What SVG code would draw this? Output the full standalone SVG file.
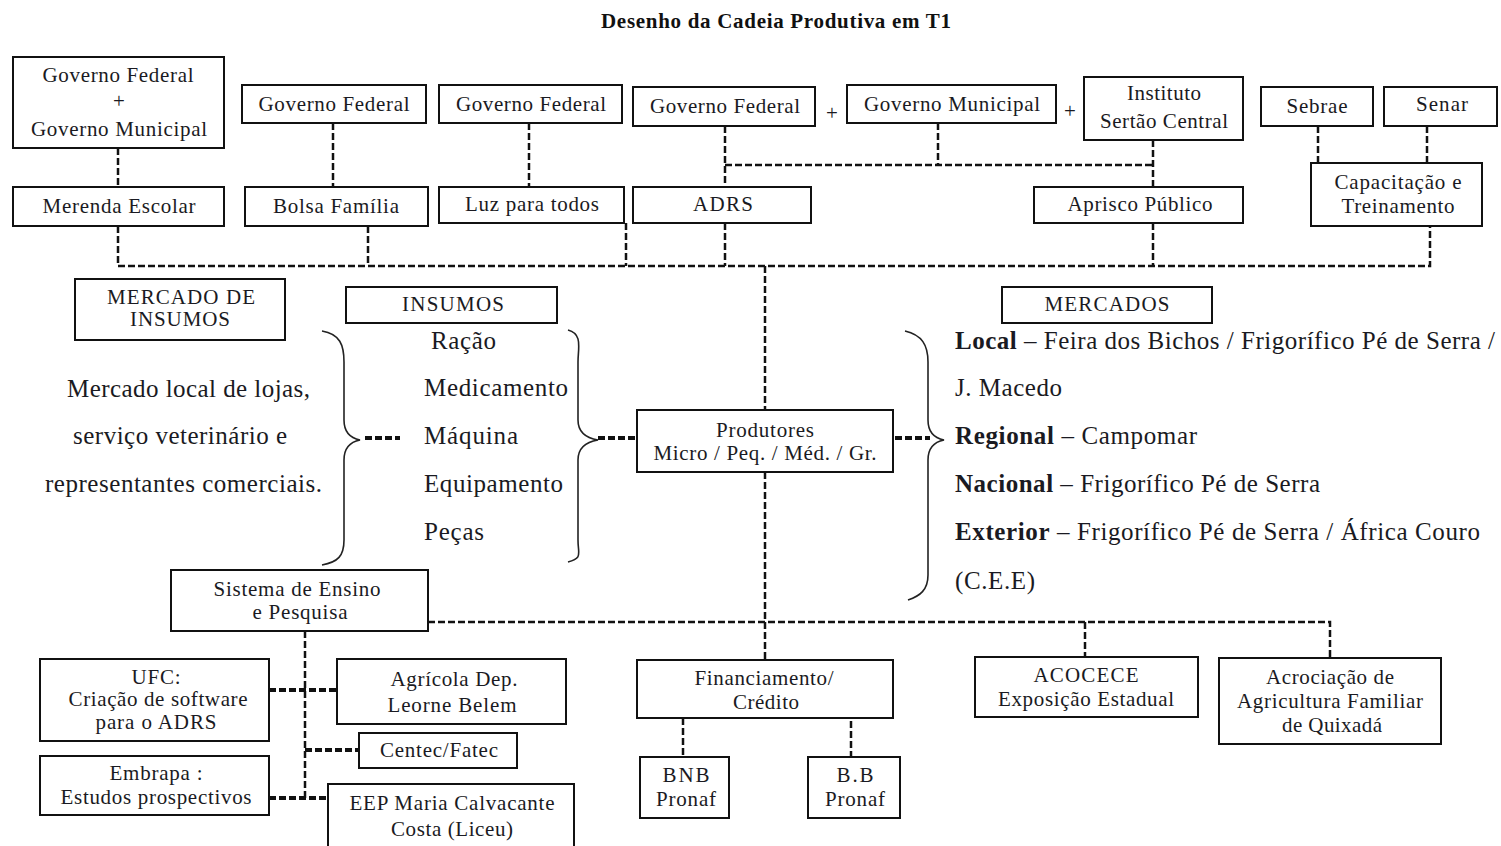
<svg xmlns="http://www.w3.org/2000/svg" width="1501" height="846" viewBox="0 0 1501 846">
<style>
.b{fill:#fff;stroke:#111;stroke-width:2}
.t{font-family:"Liberation Serif","Times New Roman",serif;font-size:21px;fill:#1a1a22;text-anchor:middle}
.s{font-family:"Liberation Serif","Times New Roman",serif;font-size:25px;fill:#1a1a22}
.bold{font-weight:bold}
.c{fill:none;stroke:#111;stroke-width:2.5;stroke-dasharray:7 3}
.k{fill:none;stroke:#111;stroke-width:4;stroke-dasharray:7 3}
.br{fill:none;stroke:#222;stroke-width:1.6}
</style>
<rect width="1501" height="846" fill="#fff"/>
<text x="776" y="28" style="font-family:'Liberation Serif',serif;font-size:21px;font-weight:bold;text-anchor:middle;fill:#111" textLength="350">Desenho da Cadeia Produtiva em T1</text>

<g id="connectors">
<path class="c" d="M118 148V187M333 123V187M529 123V187M725 126V187M938 123V165M725 165H1153M1153 140V187M1318 126V163M1427 126V163"/>
<path class="c" d="M118 226V266H1430V226M368 226V266M626 223V266M725 223V266M1153 223V266M765 266V410M765 472V660"/>
<path class="c" d="M428 622H1330V658M1085 622V657"/>
<path class="c" d="M305 631V800M683 718V757M851 711V757"/>
<path class="k" d="M269 690H337M305 750H359M269 798H330M365 438H400M598 438H635M895 438H930"/>
<path class="br" d="M322 331C340 334 344 345 344 362V420C344 432 350 438 360 440C350 442 344 448 344 460V540C344 556 338 562 322 565"/>
<path class="br" d="M568 330C583 334 578 348 578 362V420C578 432 586 438 598 440C586 442 578 448 578 460V540C578 554 583 558 568 562"/>
<path class="br" d="M905 331C922 335 928 345 928 362V420C928 432 934 438 944 440C934 442 928 448 928 460V575C928 590 920 596 908 600"/>
</g>

<g id="n-gov-fed-mun"><rect class="b" x="13" y="57" width="211" height="91"/>
<text class="t" x="118" y="82" textLength="151">Governo Federal</text><text class="t" x="119" y="108">+</text><text class="t" x="119" y="136" textLength="176">Governo Municipal</text></g>
<g id="n-gov-fed-1"><rect class="b" x="242" y="85" width="184" height="38"/><text class="t" x="334" y="111" textLength="151">Governo Federal</text></g>
<g id="n-gov-fed-2"><rect class="b" x="439" y="85" width="183" height="38"/><text class="t" x="531" y="111" textLength="150">Governo Federal</text></g>
<g id="n-gov-fed-3"><rect class="b" x="633" y="87" width="182" height="39"/><text class="t" x="725" y="113" textLength="150">Governo Federal</text></g>
<text class="t" x="832" y="120">+</text>
<g id="n-gov-mun"><rect class="b" x="847" y="85" width="209" height="38"/><text class="t" x="952" y="111" textLength="176">Governo Municipal</text></g>
<text class="t" x="1070" y="118">+</text>
<g id="n-instituto"><rect class="b" x="1084" y="77" width="159" height="63"/><text class="t" x="1164" y="100" textLength="74">Instituto</text><text class="t" x="1164" y="128" textLength="128">Sertão Central</text></g>
<g id="n-sebrae"><rect class="b" x="1261" y="87" width="112" height="39"/><text class="t" x="1317" y="113" textLength="61">Sebrae</text></g>
<g id="n-senar"><rect class="b" x="1384" y="87" width="113" height="39"/><text class="t" x="1442" y="111" textLength="52">Senar</text></g>

<g id="n-merenda"><rect class="b" x="13" y="187" width="211" height="39"/><text class="t" x="119" y="213" textLength="153">Merenda Escolar</text></g>
<g id="n-bolsa"><rect class="b" x="245" y="187" width="183" height="39"/><text class="t" x="336" y="213" textLength="126">Bolsa Família</text></g>
<g id="n-luz"><rect class="b" x="439" y="187" width="185" height="36"/><text class="t" x="532" y="211" textLength="134">Luz para todos</text></g>
<g id="n-adrs"><rect class="b" x="633" y="187" width="178" height="36"/><text class="t" x="723" y="211" textLength="60">ADRS</text></g>
<g id="n-aprisco"><rect class="b" x="1034" y="187" width="209" height="36"/><text class="t" x="1140" y="211" textLength="145">Aprisco Público</text></g>
<g id="n-capacitacao"><rect class="b" x="1311" y="163" width="171" height="63"/><text class="t" x="1398" y="189" textLength="127">Capacitação e</text><text class="t" x="1398" y="213" textLength="113">Treinamento</text></g>

<g id="n-mercado-insumos"><rect class="b" x="75" y="279" width="210" height="61"/><text class="t" x="181" y="304" textLength="148">MERCADO DE</text><text class="t" x="180" y="326" textLength="100">INSUMOS</text></g>
<g id="n-insumos"><rect class="b" x="346" y="287" width="211" height="36"/><text class="t" x="453" y="311" textLength="102">INSUMOS</text></g>
<g id="n-mercados"><rect class="b" x="1002" y="287" width="210" height="36"/><text class="t" x="1107" y="311" textLength="125">MERCADOS</text></g>

<g id="t-mercado-local">
<text class="s" x="67" y="397" textLength="243">Mercado local de lojas,</text>
<text class="s" x="73" y="444" textLength="214">serviço veterinário e</text>
<text class="s" x="45" y="492" textLength="277">representantes comerciais.</text>
</g>
<g id="t-insumos-list">
<text class="s" x="431" y="349" textLength="65">Ração</text>
<text class="s" x="424" y="396" textLength="144">Medicamento</text>
<text class="s" x="424" y="444" textLength="94">Máquina</text>
<text class="s" x="424" y="492" textLength="139">Equipamento</text>
<text class="s" x="424" y="540" textLength="60">Peças</text>
</g>
<g id="n-produtores"><rect class="b" x="637" y="410" width="256" height="62"/><text class="t" x="765" y="437" textLength="98">Produtores</text><text class="t" x="765" y="460" textLength="223">Micro / Peq. / Méd. / Gr.</text></g>
<g id="t-mercados-list">
<text class="s" x="955" y="349" textLength="540"><tspan class="bold">Local</tspan> – Feira dos Bichos / Frigorífico Pé de Serra /</text>
<text class="s" x="955" y="396" textLength="107">J. Macedo</text>
<text class="s" x="955" y="444" textLength="242"><tspan class="bold">Regional</tspan> – Campomar</text>
<text class="s" x="955" y="492" textLength="365"><tspan class="bold">Nacional</tspan> – Frigorífico Pé de Serra</text>
<text class="s" x="955" y="540" textLength="525"><tspan class="bold">Exterior</tspan> – Frigorífico  Pé de Serra / África Couro</text>
<text class="s" x="955" y="589" textLength="80">(C.E.E)</text>
</g>

<g id="n-sistema"><rect class="b" x="171" y="570" width="257" height="61"/><text class="t" x="297" y="596" textLength="167">Sistema de Ensino</text><text class="t" x="300" y="619" textLength="95">e Pesquisa</text></g>
<g id="n-ufc"><rect class="b" x="40" y="659" width="229" height="82"/><text class="t" x="156" y="684" textLength="49">UFC:</text><text class="t" x="158" y="706" textLength="179">Criação de software</text><text class="t" x="156" y="729" textLength="121">para o ADRS</text></g>
<g id="n-agricola"><rect class="b" x="337" y="659" width="229" height="65"/><text class="t" x="454" y="686" textLength="127">Agrícola Dep.</text><text class="t" x="452" y="712" textLength="129">Leorne Belem</text></g>
<g id="n-centec"><rect class="b" x="359" y="733" width="158" height="35"/><text class="t" x="439" y="757" textLength="118">Centec/Fatec</text></g>
<g id="n-embrapa"><rect class="b" x="40" y="756" width="229" height="59"/><text class="t" x="156" y="780" textLength="93">Embrapa :</text><text class="t" x="156" y="804" textLength="191">Estudos prospectivos</text></g>
<g id="n-eep"><rect class="b" x="328" y="784" width="246" height="70"/><text class="t" x="452" y="810" textLength="205">EEP Maria Calvacante</text><text class="t" x="452" y="836" textLength="122">Costa (Liceu)</text></g>
<g id="n-financiamento"><rect class="b" x="637" y="660" width="256" height="58"/><text class="t" x="764" y="685" textLength="139">Financiamento/</text><text class="t" x="766" y="709" textLength="66">Crédito</text></g>
<g id="n-bnb"><rect class="b" x="640" y="757" width="89" height="61"/><text class="t" x="686" y="782" textLength="47">BNB</text><text class="t" x="686" y="806" textLength="60">Pronaf</text></g>
<g id="n-bb"><rect class="b" x="808" y="757" width="92" height="61"/><text class="t" x="855" y="782" textLength="37">B.B</text><text class="t" x="855" y="806" textLength="60">Pronaf</text></g>
<g id="n-acocece"><rect class="b" x="975" y="657" width="223" height="60"/><text class="t" x="1086" y="682" textLength="105">ACOCECE</text><text class="t" x="1086" y="706" textLength="176">Exposição Estadual</text></g>
<g id="n-acrociacao"><rect class="b" x="1219" y="658" width="222" height="86"/><text class="t" x="1330" y="684" textLength="128">Acrociação de</text><text class="t" x="1330" y="708" textLength="186">Agricultura Familiar</text><text class="t" x="1332" y="732" textLength="100">de Quixadá</text></g>
</svg>
